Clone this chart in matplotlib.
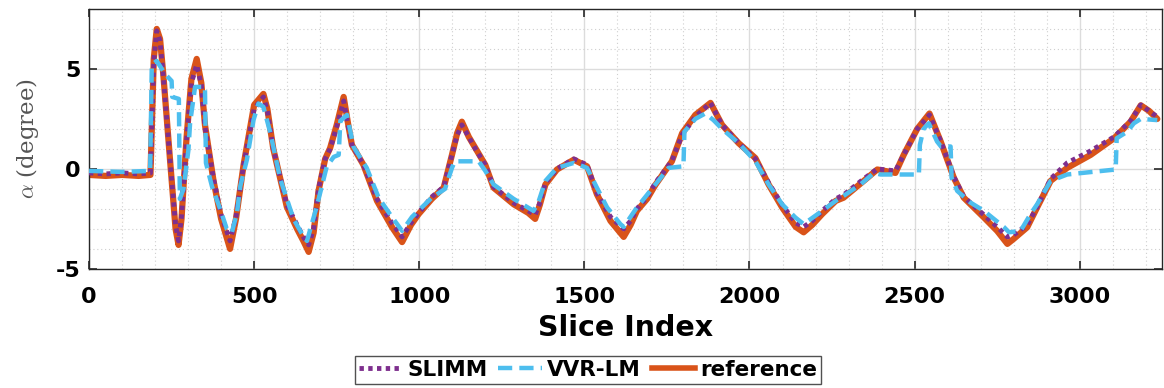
import matplotlib
matplotlib.use("Agg")
import matplotlib.pyplot as plt
from matplotlib.ticker import MultipleLocator
from matplotlib.lines import Line2D

plt.rcParams["font.family"] = ["DejaVu Sans"]
plt.rcParams["mathtext.fontset"] = "cm"
plt.rcParams["axes.unicode_minus"] = False

# reference curve
ref_x = [0, 50, 100, 150, 186, 190, 196, 205, 215, 225, 245, 262, 271, 280, 295, 310, 326, 340,
         351, 377, 400, 427, 445, 468, 500, 528, 540, 558, 599, 630, 649, 665, 680, 695, 715, 730,
         750, 771, 785, 796, 831, 872, 917, 948, 975, 998, 1038, 1074, 1099, 1115, 1129, 1150,
         1170, 1200, 1225, 1286, 1330, 1351, 1365, 1382, 1417, 1468, 1508, 1538, 1579, 1619,
         1640, 1659, 1690, 1715, 1765, 1796, 1836, 1882, 1917, 1967, 2018, 2058, 2099, 2140,
         2164, 2190, 2220, 2261, 2285, 2346, 2387, 2442, 2467, 2508, 2545, 2579, 2619, 2649,
         2710, 2750, 2781, 2800, 2841, 2871, 2912, 2962, 3033, 3104, 3154, 3185, 3210, 3235]
ref_y = [-0.3, -0.35, -0.3, -0.35, -0.3, 2.0, 5.5, 7.0, 6.5, 4.7, 0.5, -3.0, -3.8, -2.5, 1.5,
         4.5, 5.5, 4.3, 2.2, -0.6, -2.5, -4.0, -2.5, 0.2, 3.2, 3.75, 3.0, 1.0, -1.9, -3.0, -3.6,
         -4.15, -3.2, -1.1, 0.5, 1.04, 2.2, 3.6, 2.2, 1.2, 0.2, -1.6, -2.9, -3.66, -2.8, -2.26,
         -1.5, -0.94, 0.7, 1.8, 2.36, 1.6, 1.04, 0.2, -0.94, -1.77, -2.2, -2.5, -1.8, -0.78,
         -0.03, 0.46, 0.13, -1.27, -2.6, -3.4, -2.8, -2.1, -1.5, -0.8, 0.38, 1.78, 2.7, 3.3, 2.2,
         1.29, 0.54, -0.78, -1.93, -2.9, -3.17, -2.8, -2.26, -1.6, -1.44, -0.6, -0.03, -0.2, 0.7,
         2.0, 2.77, 1.37, -0.45, -1.44, -2.43, -3.1, -3.75, -3.5, -2.92, -1.93, -0.6, 0.05, 0.7,
         1.53, 2.36, 3.18, 2.9, 2.5]

# SLIMM (same sample positions as reference)
slimm_y = [-0.2, -0.25, -0.2, -0.25, -0.2, 2.0, 5.4, 6.9, 6.4, 4.6, 0.5, -2.8, -3.6, -2.4, 1.4,
           4.3, 5.2, 4.2, 2.1, -0.5, -2.3, -3.6, -2.4, 0.2, 3.0, 3.6, 2.9, 1.0, -1.8, -2.8, -3.4,
           -3.8, -3.0, -1.0, 0.5, 1.0, 2.1, 3.4, 2.1, 1.2, 0.2, -1.5, -2.7, -3.4, -2.7, -2.2,
           -1.4, -0.9, 0.7, 1.7, 2.2, 1.6, 1.0, 0.2, -0.9, -1.7, -2.1, -2.3, -1.7, -0.7,
           0.0, 0.5, 0.2, -1.2, -2.4, -3.0, -2.6, -2.0, -1.4, -0.7, 0.4, 1.7, 2.6, 3.3, 2.2,
           1.3, 0.5, -0.7, -1.8, -2.7, -2.9, -2.6, -2.1, -1.5, -1.3, -0.5, 0.0, -0.1, 0.7,
           2.0, 2.7, 1.4, -0.4, -1.4, -2.3, -2.9, -3.4, -3.3, -2.8, -1.9, -0.5, 0.3, 0.9,
           1.6, 2.4, 3.2, 2.9, 2.6]

# VVR-LM
vvr_x = [0, 100, 185, 190, 205, 230, 250, 252, 272, 275, 286, 301, 306, 321, 351, 354, 372, 397,
         417, 432, 448, 458, 478, 498, 513, 528, 549, 579, 619, 650, 660, 690, 720, 741, 756, 761,
         781, 801, 841, 877, 917, 948, 978, 1038, 1078, 1099, 1108, 1180, 1200, 1225, 1286, 1346,
         1362, 1382, 1417, 1468, 1508, 1538, 1569, 1609, 1619, 1659, 1715, 1755, 1800, 1803,
         1836, 1866, 1891, 1917, 1967, 2018, 2058, 2099, 2139, 2164, 2220, 2261, 2285, 2336,
         2377, 2397, 2513, 2516, 2527, 2543, 2568, 2580, 2609, 2612, 2629, 2669, 2710, 2770,
         2786, 2821, 2851, 2871, 2912, 2962, 3109, 3112, 3144, 3164, 3185, 3235]
vvr_y = [-0.1, -0.15, -0.1, 5.2, 5.4, 4.75, 4.4, 3.6, 3.5, -1.5, -1.0, 0.96, 2.3, 4.1, 4.1, 0.3,
         -0.86, -2.0, -3.0, -3.2, -2.2, -0.86, 0.46, 2.44, 3.27, 3.1, 1.8, -0.5, -2.5, -3.4, -3.6,
         -1.85, 0.13, 0.6, 0.7, 2.4, 2.7, 1.1, 0.05, -1.44, -2.4, -3.1, -2.4, -1.44, -1.0, 0.05,
         0.38, 0.38, -0.1, -0.78, -1.5, -2.1, -1.6, -0.6, 0.05, 0.3, 0.05, -0.94, -1.93, -2.76,
         -2.9, -1.93, -0.78, 0.05, 0.13, 1.86, 2.5, 2.77, 2.44, 2.0, 1.29, 0.38, -0.78, -1.77,
         -2.43, -2.76, -2.1, -1.6, -1.35, -0.78, -0.2, -0.28, -0.28, 1.2, 2.0, 2.28, 1.37, 1.12,
         1.12, -0.45, -1.1, -1.68, -2.1, -2.9, -3.17, -3.1, -2.26, -1.77, -0.6, -0.28, -0.03,
         1.53, 1.86, 2.28, 2.5, 2.44]

c_ref = "#D95319"
c_slimm = "#7E2F8E"
c_vvr = "#4DBEEE"
ls_slimm = (0, (0.9, 0.9))
ls_vvr = (0, (3.2, 1.6))

fig = plt.figure(figsize=(11.64, 3.88), dpi=100)
ax = fig.add_axes([0.0765, 0.307, 0.922, 0.670])

ax.plot(ref_x, ref_y, color=c_ref, lw=4.5, solid_capstyle="round", solid_joinstyle="round",
        zorder=2)
ax.plot(ref_x, slimm_y, color=c_slimm, lw=3.5, linestyle=ls_slimm, zorder=3)
ax.plot(vvr_x, vvr_y, color=c_vvr, lw=3.2, linestyle=ls_vvr, zorder=4)

ax.set_xlim(0, 3250)
ax.set_ylim(-5, 8)
ax.xaxis.set_major_locator(MultipleLocator(500))
ax.xaxis.set_minor_locator(MultipleLocator(100))
ax.yaxis.set_major_locator(MultipleLocator(5))
ax.yaxis.set_minor_locator(MultipleLocator(1))
ax.grid(which="major", color="#dcdcdc", lw=1.0, linestyle="-")
ax.grid(which="minor", color="#cfcfcf", lw=0.8, linestyle=(0, (1, 2.5)))
ax.set_axisbelow(True)
ax.tick_params(which="major", direction="in", length=6, width=1.2, top=True, right=True,
               labelsize=16, color="#262626")
ax.tick_params(axis="x", which="major", pad=13)
ax.tick_params(axis="y", which="major", pad=6)
ax.tick_params(which="minor", length=0)
for lab in ax.get_xticklabels() + ax.get_yticklabels():
    lab.set_fontweight("bold")
for sp in ax.spines.values():
    sp.set_color("#262626")
    sp.set_linewidth(1.0)

ax.set_xlabel("Slice Index", fontsize=20.5, fontweight="bold", labelpad=5)
ax.set_ylabel(r"$\alpha$ (degree)", fontsize=16.5, family="DejaVu Serif", color="#555555",
              labelpad=11)

handles = [
    Line2D([0], [0], color=c_slimm, lw=3.5, linestyle=ls_slimm),
    Line2D([0], [0], color=c_vvr, lw=3.2, linestyle=ls_vvr),
    Line2D([0], [0], color=c_ref, lw=4),
]
leg = fig.legend(handles, ["SLIMM", "VVR-LM", "reference"], loc="center",
                 bbox_to_anchor=(588 / 1164, 1 - 370 / 388), ncol=3, frameon=True,
                 prop={"weight": "bold", "size": 15.5}, handlelength=2.0, handletextpad=0.25,
                 columnspacing=0.5, borderpad=0.2, borderaxespad=0, fancybox=False)
leg.get_frame().set_edgecolor("#262626")
leg.get_frame().set_linewidth(1.0)

fig.savefig("out.png", dpi=100)
